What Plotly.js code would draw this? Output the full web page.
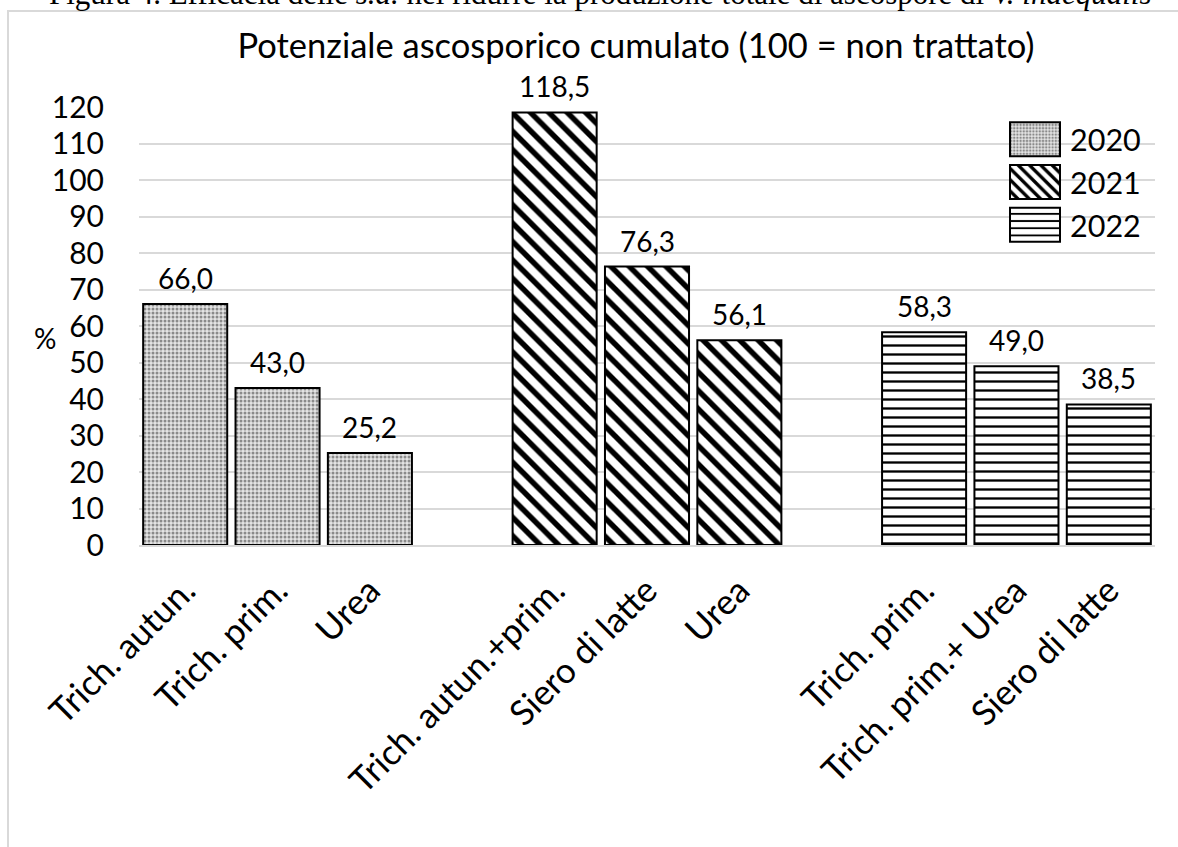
<!DOCTYPE html>
<html>
<head>
<meta charset="utf-8">
<script src="https://cdn.plot.ly/plotly-3.0.1.min.js"></script>
<style>
  html, body { margin: 0; padding: 0; background: #ffffff; }
  #chart { width: 1178px; height: 847px; }
</style>
</head>
<body>
<div id="chart"></div>
<script>
// ---- Data ----
const seriesNames = ['2020', '2021', '2022'];
const cats2020 = ['Trich. autun.', 'Trich. prim.', 'Urea'];
const vals2020 = [66.0, 43.0, 25.2];
const cats2021 = ['Trich. autun.+prim.', 'Siero di latte', 'Urea'];
const vals2021 = [118.5, 76.3, 56.1];
const cats2022 = ['Trich. prim.', 'Trich. prim.+ Urea', 'Siero di latte'];
const vals2022 = [58.3, 49.0, 38.5];
const yTicks = [0, 10, 20, 30, 40, 50, 60, 70, 80, 90, 100, 110, 120];
const chartTitle = 'Potenziale ascosporico cumulato (100 = non trattato)';
const yLabel = '%';
const caption = 'Figura 4. Efficacia delle <i>s.a.</i> nel ridurre la produzione totale di ascospore di <i>V. inaequalis</i>';

const groups = [
  { name: seriesNames[0], cats: cats2020, vals: vals2020 },
  { name: seriesNames[1], cats: cats2021, vals: vals2021 },
  { name: seriesNames[2], cats: cats2022, vals: vals2022 }
];

// ---- Styles ----
const FONT = 'Lato, "Open Sans", sans-serif';
const patterns = [
  { shape: '.', size: 4, solidity: 0.45, fgcolor: '#8a8a8a', bgcolor: '#e4e4e4' },
  { shape: '\\', size: 13, solidity: 0.42, fgcolor: '#000000', bgcolor: '#ffffff' },
  { shape: '-', size: 9, solidity: 0.26, fgcolor: '#000000', bgcolor: '#ffffff' }
];
const SLOTS_PER_GROUP = 4; // 3 bars + one empty slot between groups

const traces = [];
const tickvals = [];
const ticktext = [];
const labelAnnots = [];
groups.forEach((g, gi) => {
  const xs = g.cats.map((c, i) => gi * SLOTS_PER_GROUP + i);
  xs.forEach((x, i) => {
    tickvals.push(x);
    ticktext.push(g.cats[i]);
    labelAnnots.push({
      x: x, y: g.vals[i], xref: 'x', yref: 'y',
      text: g.vals[i].toFixed(1).replace('.', ','),
      showarrow: false, yanchor: 'bottom', yshift: 7,
      font: { family: FONT, size: 28, color: '#000' }
    });
  });
  traces.push({
    type: 'bar',
    name: g.name,
    x: xs,
    y: g.vals,
    width: 0.91,
    marker: {
      color: patterns[gi].bgcolor,
      line: { color: '#000000', width: 2 },
      pattern: patterns[gi]
    },
    hoverinfo: 'x+y'
  });
});

const L = 139, R = 23, T = 107, B = 302, W = 1178, H = 847;
const pw = W - L - R, ph = H - T - B;
const px2x = p => (p - L) / pw;
const px2y = p => (H - B - p) / ph;

const layout = {
  width: W, height: H,
  margin: { l: L, r: R, t: T, b: B, pad: 0 },
  paper_bgcolor: '#ffffff',
  plot_bgcolor: '#ffffff',
  showlegend: true,
  barmode: 'group',
  font: { family: FONT, color: '#000' },
  title: {
    text: chartTitle,
    font: { family: FONT, size: 34.5, color: '#000' },
    xref: 'paper', x: px2x(636), xanchor: 'center',
    yref: 'container', y: 1 - 46 / H, yanchor: 'middle'
  },
  xaxis: {
    range: [-0.5, 10.5],
    tickmode: 'array',
    tickvals: tickvals,
    ticktext: ticktext,
    tickangle: -45,
    tickfont: { family: FONT, size: 35, color: '#000' },
    showgrid: false,
    zeroline: false,
    showline: true, linecolor: '#d9d9d9', linewidth: 2,
    ticks: '',
    ticklabelstandoff: 9,
    fixedrange: true
  },
  yaxis: {
    range: [0, 120],
    tickmode: 'array',
    tickvals: yTicks,
    tickfont: { family: FONT, size: 30, color: '#000' },
    showgrid: true, gridcolor: '#d9d9d9', gridwidth: 2,
    zeroline: false,
    showline: false,
    ticks: '',
    ticklabelstandoff: 34,
    fixedrange: true
  },
  legend: {
    x: px2x(1000), xanchor: 'left',
    y: px2y(113), yanchor: 'top',
    bgcolor: 'rgba(0,0,0,0)',
    borderwidth: 0,
    itemwidth: 60,
    tracegroupgap: 0,
    font: { family: FONT, size: 30.5, color: '#000' }
  },
  bargap: 0.09,
  annotations: labelAnnots.concat([
    {
      xref: 'paper', yref: 'paper', x: px2x(45), y: px2y(338),
      text: yLabel, showarrow: false, xanchor: 'center', yanchor: 'middle',
      font: { family: FONT, size: 28, color: '#000' }
    },
    {
      xref: 'paper', yref: 'paper', x: px2x(600), y: px2y(-7),
      text: caption, showarrow: false, xanchor: 'center', yanchor: 'middle',
      font: { family: '"Liberation Serif", "Times New Roman", serif', size: 31, color: '#000' }
    }
  ]),
  shapes: [
    {
      type: 'rect', xref: 'paper', yref: 'paper',
      x0: px2x(8), x1: px2x(1200), y0: px2y(880), y1: px2y(11),
      line: { color: '#d9d9d9', width: 2 }, fillcolor: 'rgba(0,0,0,0)', layer: 'below'
    }
  ]
};

Plotly.newPlot('chart', traces, layout, { displayModeBar: false, staticPlot: true }).then(gd => {
  // enlarge legend swatches to look like the original's large patterned keys
  document.querySelectorAll('#chart .legend .legendpoints path').forEach(p => {
    p.setAttribute('d', 'M25,17H-25V-17H25Z');
  });
});
</script>
</body>
</html>
